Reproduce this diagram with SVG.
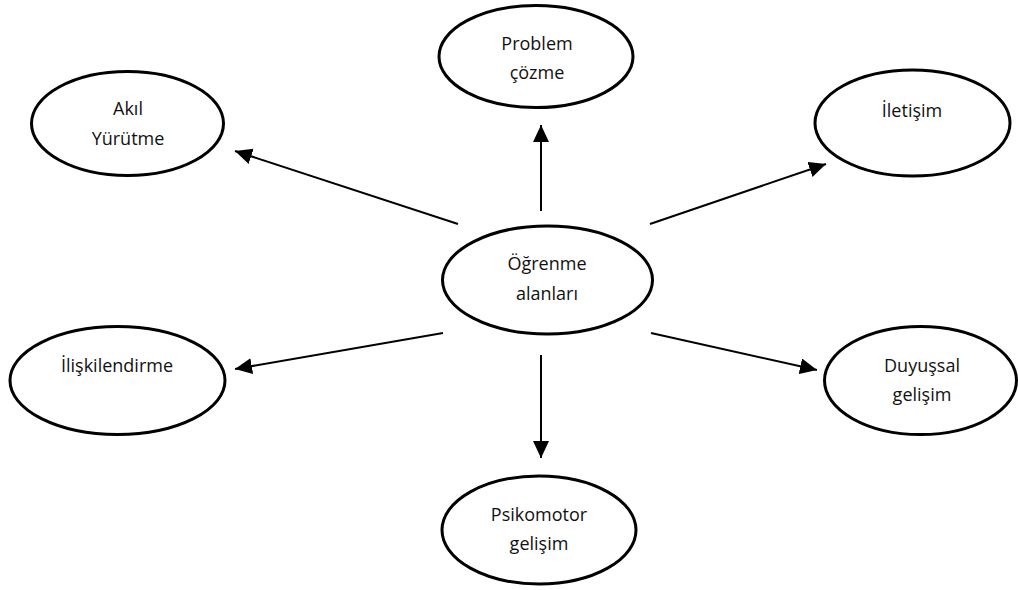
<svg xmlns="http://www.w3.org/2000/svg" width="1018" height="590" viewBox="0 0 1018 590">
<style>
.node ellipse{fill:#fff;stroke:#000;stroke-width:3}
.node text{font-family:"Open Sans","Liberation Sans",sans-serif;font-size:18px;fill:#111;text-anchor:middle}
.conn line{stroke:#000;stroke-width:2}
</style>
<defs>
<marker id="arr" markerUnits="userSpaceOnUse" markerWidth="18" markerHeight="17" refX="17" refY="8" orient="auto">
<path d="M0,0 L17,8 L0,16 z" fill="#000"/>
</marker>
</defs>
<rect width="1018" height="590" fill="#fff"/>
<g class="conn">
<line x1="458" y1="224" x2="235" y2="151" marker-end="url(#arr)"/>
<line x1="541" y1="211" x2="541" y2="125" marker-end="url(#arr)"/>
<line x1="650" y1="224" x2="826" y2="164" marker-end="url(#arr)"/>
<line x1="443" y1="333" x2="235" y2="369" marker-end="url(#arr)"/>
<line x1="541" y1="355" x2="541" y2="458" marker-end="url(#arr)"/>
<line x1="651" y1="333" x2="817" y2="370" marker-end="url(#arr)"/>
</g>
<g id="n-center" class="node"><ellipse cx="547.5" cy="280" rx="105" ry="54"/><text x="547" y="270">Öğrenme</text><text x="547" y="300">alanları</text></g>
<g id="n-akil" class="node"><ellipse cx="127.5" cy="123.5" rx="96" ry="52"/><text x="128" y="115">Akıl</text><text x="128" y="145">Yürütme</text></g>
<g id="n-problem" class="node"><ellipse cx="536" cy="56.5" rx="97" ry="51"/><text x="537" y="50">Problem</text><text x="537" y="79">çözme</text></g>
<g id="n-iletisim" class="node"><ellipse cx="912.5" cy="123" rx="97.5" ry="53"/><text x="912" y="117">İletişim</text></g>
<g id="n-iliskilendirme" class="node"><ellipse cx="117.5" cy="380.5" rx="107.5" ry="54"/><text x="117" y="372">İlişkilendirme</text></g>
<g id="n-psikomotor" class="node"><ellipse cx="539" cy="530" rx="97" ry="54"/><text x="539" y="521">Psikomotor</text><text x="539" y="550">gelişim</text></g>
<g id="n-duyussal" class="node"><ellipse cx="920.5" cy="380.5" rx="96" ry="54"/><text x="922" y="372">Duyuşsal</text><text x="922" y="401">gelişim</text></g>
</svg>
